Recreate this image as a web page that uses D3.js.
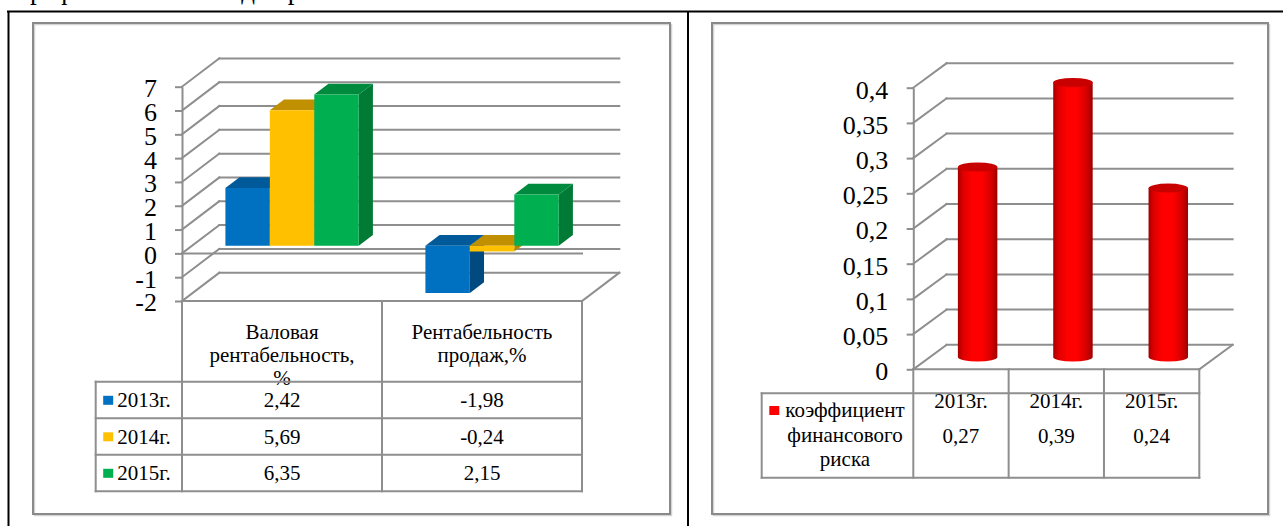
<!DOCTYPE html>
<html>
<head>
<meta charset="utf-8">
<script src="https://cdn.jsdelivr.net/npm/d3@7"></script>
<style>
  body { margin: 0; background: #fff; }
  svg, svg text { font-family: "Liberation Serif", "Times New Roman", Tinos, "DejaVu Serif", "Noto Serif", serif; }
</style>
</head>
<body>
<div id="chart"></div>
<script>
// ---- data ----
const years = ["2013г.", "2014г.", "2015г."];
const yearColors = ["#0070C0", "#FFC000", "#00B050"];
const yearTopColors = ["#005a9a", "#c09000", "#008a3e"];
const yearSideColors = ["#004a80", "#b38600", "#007a35"];

const leftCategories = ["Валовая рентабельность, %", "Рентабельность продаж,%"];
const leftCategoryLines = [["Валовая", "рентабельность,", "%"], ["Рентабельность", "продаж,%"]];
const grossMargin = [2.42, 5.69, 6.35];
const salesMargin = [-1.98, -0.24, 2.15];
const leftTicks = [-2, -1, 0, 1, 2, 3, 4, 5, 6, 7];

const riskName = ["коэффициент", "финансового", "риска"];
const riskValues = [0.27, 0.39, 0.24];
const rightTicks = [0, 0.05, 0.1, 0.15, 0.2, 0.25, 0.3, 0.35, 0.4];

// ---- setup ----
const width = 1283, height = 526;
const gridColor = "#8e8e8e";
const serif = '"Liberation Serif", "Times New Roman", Tinos, "DejaVu Serif", "Noto Serif", serif';
const ru = d3.formatLocale({decimal: ",", thousands: " ", grouping: [3], currency: ["", ""], minus: "-"});
const fmtTick = ru.format("~g");
const fmt2 = ru.format(".2f");

const svg = d3.select("#chart").append("svg")
  .attr("width", width)
  .attr("height", height)
  .attr("font-family", serif);

// cut text line from the page above
svg.append("text")
  .attr("x", 16).attr("y", -1)
  .style("font-size", "27px")
  .text("Графики основных для рентабельности");

// page table borders
svg.append("line").attr("x1", 7).attr("x2", width).attr("y1", 11.5).attr("y2", 11.5)
  .attr("stroke", "#000").attr("stroke-width", 2);
svg.append("line").attr("x1", 8.5).attr("x2", 8.5).attr("y1", 11).attr("y2", height)
  .attr("stroke", "#000").attr("stroke-width", 2);
svg.append("line").attr("x1", 688).attr("x2", 688).attr("y1", 11).attr("y2", height)
  .attr("stroke", "#000").attr("stroke-width", 2);

// chart frames
[[33, 23, 637, 491], [712, 23, 556, 491]].forEach(r => {
  svg.append("rect")
    .attr("x", r[0] + 1.5).attr("y", r[1] + 1.5).attr("width", r[2]).attr("height", r[3])
    .attr("fill", "none").attr("stroke", "#d4d4d4").attr("stroke-width", 1.5);
  svg.append("rect")
    .attr("x", r[0]).attr("y", r[1]).attr("width", r[2]).attr("height", r[3])
    .attr("fill", "none").attr("stroke", "#8a8a8a").attr("stroke-width", 2);
});

const poly = pts => "M" + pts.map(p => p.join(",")).join("L") + "Z";

function line(g, x1, y1, x2, y2) {
  g.append("line")
    .attr("x1", x1).attr("y1", y1).attr("x2", x2).attr("y2", y2)
    .attr("stroke", gridColor).attr("stroke-width", 2)
    .attr("stroke-linecap", "square");
}

// ================= left chart =================
const L = {x0: 182, x1: 582, dx: 37.3, dy: -28.3, tFront: 0.27, tBack: 0.65};
const yL = d3.scaleLinear().domain([-2, 7]).range([301, 86.7]);
const xL = d3.scaleBand().domain(leftCategories).range([L.x0, L.x1]);
const xLs = d3.scaleBand().domain(years).range([0, xL.bandwidth()]).paddingOuter(0.75);

const left = svg.append("g");

// walls
leftTicks.forEach(v => {
  const y = yL(v);
  line(left, L.x0, y, L.x0 + L.dx, y + L.dy);
  line(left, L.x0 + L.dx, y + L.dy, L.x1 + L.dx, y + L.dy);
});
line(left, L.x1, yL(-2), L.x1 + L.dx, yL(-2) + L.dy);
line(left, L.x0, yL(0), L.x1, yL(0));

left.append("g")
  .attr("transform", `translate(${L.x0},0)`)
  .call(d3.axisLeft(yL).tickValues(leftTicks).tickSize(7).tickSizeOuter(0).tickPadding(18).tickFormat(fmtTick))
  .attr("font-family", serif).attr("font-size", 26)
  .call(g => g.selectAll("path, line").attr("stroke", gridColor).attr("stroke-width", 2))
  .call(g => g.selectAll("text").attr("fill", "#000").attr("dy", "0.38em"));

// bars
function barFaces(xa, xb, v) {
  const yz = yL(0), yv = yL(v);
  const top = Math.min(yz, yv), bot = Math.max(yz, yv);
  const fx = L.dx * L.tFront, fy = L.dy * L.tFront;
  const bx = L.dx * L.tBack, by = L.dy * L.tBack;
  return {
    side: [[xb + fx, top + fy], [xb + bx, top + by], [xb + bx, bot + by], [xb + fx, bot + fy]],
    top: [[xa + fx, top + fy], [xb + fx, top + fy], [xb + bx, top + by], [xa + bx, top + by]],
    front: [[xa + fx, top + fy], [xb + fx, top + fy], [xb + fx, bot + fy], [xa + fx, bot + fy]]
  };
}

const leftValues = [grossMargin, salesMargin];
leftCategories.forEach((cat, ci) => {
  years.forEach((yr, si) => {
    const xa = xL(cat) + xLs(yr);
    const f = barFaces(xa, xa + xLs.bandwidth(), leftValues[ci][si]);
    left.append("path").attr("d", poly(f.side)).attr("fill", yearSideColors[si]);
    left.append("path").attr("d", poly(f.top)).attr("fill", yearTopColors[si]);
    left.append("path").attr("d", poly(f.front)).attr("fill", yearColors[si]);
  });
});

// data table
const tTop = yL(-2), tHead = 381.7, rowH = 36.5, tLeft = 95.7;
const tBottom = tHead + rowH * years.length;
const leftText = left.append("g").attr("font-size", 21).attr("fill", "#000");

leftCategories.forEach((cat, ci) => {
  const cx = xL(cat) + xL.bandwidth() / 2;
  leftCategoryLines[ci].forEach((t, li) => {
    leftText.append("text").attr("x", cx).attr("y", 339.3 + li * 23)
      .attr("text-anchor", "middle").text(t);
  });
});
years.forEach((yr, si) => {
  const base = tHead + rowH * si + 25.6;
  left.append("rect").attr("x", tLeft + 7.5).attr("y", base - 11.5).attr("width", 10).attr("height", 9)
    .attr("fill", yearColors[si]);
  leftText.append("text").attr("x", tLeft + 21.5).attr("y", base).text(yr);
  leftCategories.forEach((cat, ci) => {
    leftText.append("text").attr("x", xL(cat) + xL.bandwidth() / 2).attr("y", base)
      .attr("text-anchor", "middle").text(fmt2(leftValues[ci][si]));
  });
});
[L.x0, L.x0 + xL.step(), L.x1].forEach(x => line(left, x, tTop, x, tBottom));
line(left, tLeft, tHead, tLeft, tBottom);
d3.range(years.length + 1).forEach(i => line(left, tLeft, tHead + rowH * i, L.x1, tHead + rowH * i));
line(left, L.x0, tTop, L.x1, tTop);

// ================= right chart =================
const R = {x0: 913.3, x1: 1199.3, dx: 33.3, dy: -24.5, t: 0.5};
const yR = d3.scaleLinear().domain([0, 0.4]).range([369.3, 87.7]);
const xR = d3.scaleBand().domain(years).range([R.x0, R.x1]).paddingInner(0.586).paddingOuter(0.293);

const right = svg.append("g");

rightTicks.forEach(v => {
  const y = yR(v);
  line(right, R.x0, y, R.x0 + R.dx, y + R.dy);
  line(right, R.x0 + R.dx, y + R.dy, R.x1 + R.dx, y + R.dy);
});
line(right, R.x1, yR(0), R.x1 + R.dx, yR(0) + R.dy);

right.append("g")
  .attr("transform", `translate(${R.x0},0)`)
  .call(d3.axisLeft(yR).tickValues(rightTicks).tickSize(6.6).tickSizeOuter(0).tickPadding(18.4).tickFormat(fmtTick))
  .attr("font-family", serif).attr("font-size", 26)
  .call(g => g.selectAll("path, line").attr("stroke", gridColor).attr("stroke-width", 2))
  .call(g => g.selectAll("text").attr("fill", "#000").attr("dy", "0.4em"));

// cylinders
const defs = svg.append("defs");
const grad = defs.append("linearGradient").attr("id", "cyl").attr("x1", "0%").attr("x2", "100%");
[[0, "#a30000"], [0.12, "#dc0000"], [0.35, "#ff0000"], [0.6, "#ff0000"], [0.85, "#d40000"], [1, "#9c0000"]]
  .forEach(s => grad.append("stop").attr("offset", s[0]).attr("stop-color", s[1]));

const rx = xR.bandwidth() / 2, ry = 4.5;
years.forEach((yr, i) => {
  const cx = xR(yr) + rx + R.dx * R.t;
  const yb = yR(0) + R.dy * R.t;
  const yt = yR(riskValues[i]) + R.dy * R.t;
  right.append("path")
    .attr("d", `M${cx - rx},${yt} L${cx - rx},${yb} A${rx},${ry} 0 0 0 ${cx + rx},${yb} L${cx + rx},${yt} Z`)
    .attr("fill", "url(#cyl)");
  right.append("ellipse")
    .attr("cx", cx).attr("cy", yt).attr("rx", rx).attr("ry", ry)
    .attr("fill", "#c80000");
});

// data table
const rTop = yR(0), rHead = 393.3, rBottom = 477.7, rLeft = 761.7;
const rightText = right.append("g").attr("font-size", 21).attr("fill", "#000");
years.forEach((yr, i) => {
  const cx = R.x0 + xR.step() * (i + 0.5);
  rightText.append("text").attr("x", cx).attr("y", 407.7).attr("text-anchor", "middle").text(yr);
  rightText.append("text").attr("x", cx).attr("y", 442.7).attr("text-anchor", "middle").text(fmt2(riskValues[i]));
});
const legendCx = (rLeft + R.x0) / 2 + 7.5;
riskName.forEach((t, li) => {
  rightText.append("text").attr("x", legendCx).attr("y", 417.3 + li * 24.3)
    .attr("text-anchor", "middle").text(t);
});
right.append("rect").attr("x", 769.3).attr("y", 406).attr("width", 10).attr("height", 9).attr("fill", "#FF0000");

d3.range(years.length + 1).forEach(i => line(right, R.x0 + xR.step() * i, rTop, R.x0 + xR.step() * i, rBottom));
line(right, rLeft, rHead, rLeft, rBottom);
line(right, rLeft, rHead, R.x1, rHead);
line(right, rLeft, rBottom, R.x1, rBottom);
line(right, R.x0, rTop, R.x1, rTop);
</script>
</body>
</html>
